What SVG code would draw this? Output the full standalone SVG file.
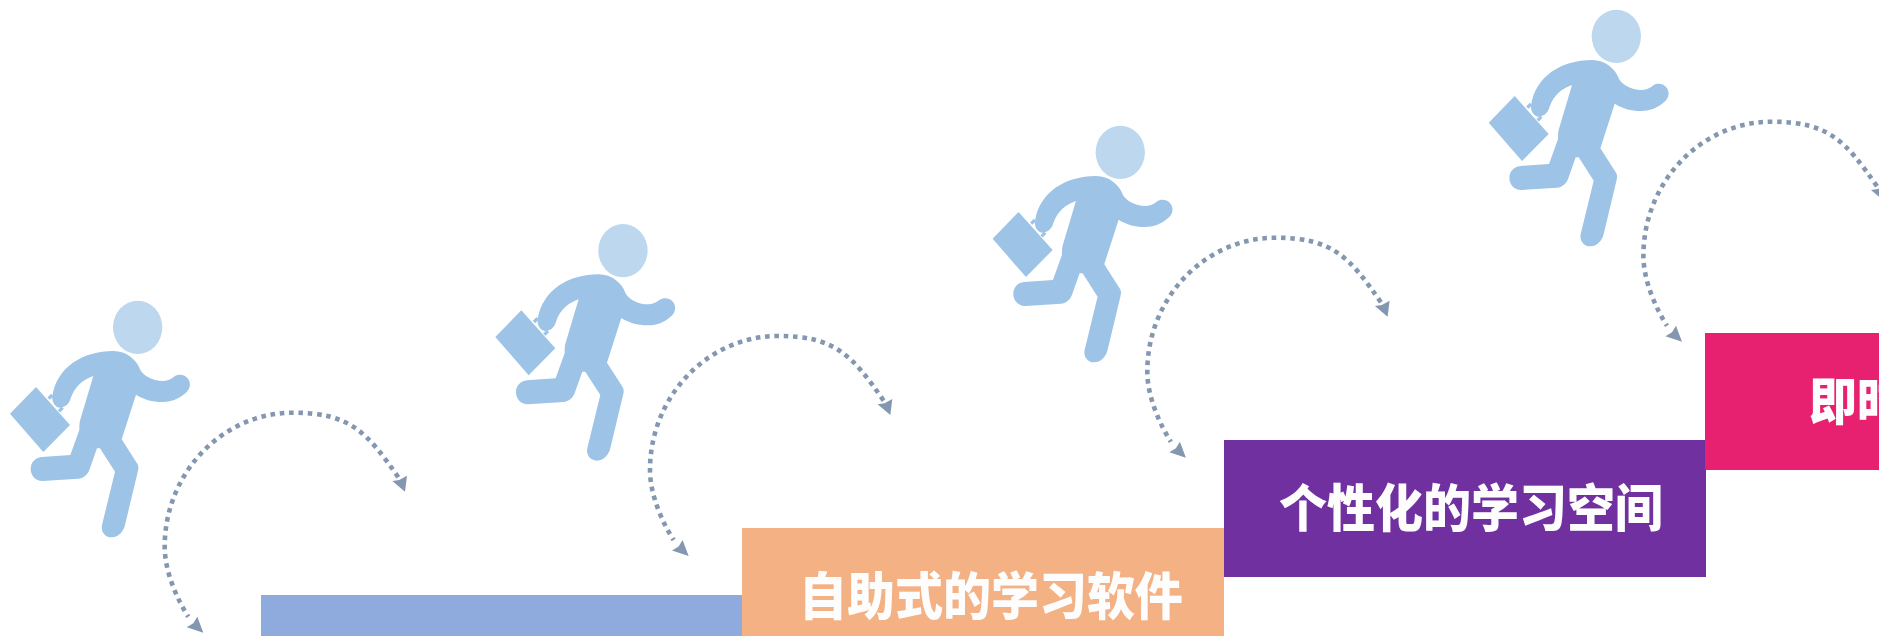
<svg xmlns="http://www.w3.org/2000/svg" width="1879" height="636" viewBox="0 0 1879 636">
<style>
.t{font-family:"Noto Sans CJK SC","Noto Sans",sans-serif;font-weight:900;font-size:48px;fill:#fdfdfd}
.arc{fill:none;stroke:#8497B0;stroke-width:4.6;stroke-dasharray:4.6 4.7}
.head{fill:#BDD7EE}.body{fill:#9DC3E6}
.ah{fill:#8497B0}
</style>
<defs>
<g id="runner" transform="translate(0,280) scale(.33333)">
<ellipse class="head" cx="413" cy="142" rx="74" ry="80"/>
<polygon class="body" points="30,401 108,321 210,435 130,516"/>
<path d="M146,356L157,345M177,394L188,383" fill="none" stroke="#9DC3E6" stroke-width="10"/>
<path class="body" d="M340,213C380,213 410,240 420,268C428,285 455,303 490,303C505,302 515,296 522,290C535,281 555,283 565,298C575,315 568,332 552,343C535,358 512,366 488,366C455,366 430,358 408,344L365,478L410,548C416,556 416,564 414,572L375,735C370,758 350,773 335,772C315,772 302,755 306,735L345,575L300,505L291,505L268,570C262,585 250,595 235,596L128,603C108,604 92,587 92,567C92,548 105,533 125,531L211,525L238,450C238,440 238,430 240,422L280,288C250,298 225,318 212,355C208,372 195,382 180,383C165,382 155,365 157,350C170,260 250,213 340,213Z"/>
</g>
<g id="hop">
<path class="arc" d="M398.3,477.3C367,432.2 350,412.7 293,412.7C222.4,412.7 164.7,473 164.7,546.7C164.7,572 177.5,600 188.3,616.7"/>
<polygon class="ah" points="405,491.7 392.3,481 399.3,480 407,475.7"/>
<polygon class="ah" points="203.3,632.7 186.7,627.3 193.3,623.3 197.3,616.7"/>
</g>
</defs>
<g id="connectors">
<use href="#hop"/>
<use href="#hop" x="485.3" y="-76.7"/>
<use href="#hop" x="982.6" y="-175"/>
<use href="#hop" x="1478.7" y="-291"/>
</g>
<g id="runner-1"><use href="#runner"/></g>
<g id="runner-2"><use href="#runner" x="485.3" y="-76.7"/></g>
<g id="runner-3"><use href="#runner" x="982.6" y="-175"/></g>
<g id="runner-4"><use href="#runner" x="1478.7" y="-291"/></g>
<g id="step-1"><rect x="261" y="595" width="481" height="136" fill="#8FAADC"/></g>
<g id="step-2"><rect x="742" y="528" width="482" height="136" fill="#F4B183"/><text class="t" transform="translate(799,615) scale(1,1.07)">自助式的学习软件</text></g>
<g id="step-3"><rect x="1224" y="440" width="482" height="137" fill="#7030A0"/><text class="t" transform="translate(1279,527) scale(1,1.07)">个性化的学习空间</text></g>
<g id="step-4"><rect x="1705" y="333" width="174" height="137" fill="#E7206F"/><text class="t" transform="translate(1809,420) scale(1,1.07)">即时</text></g>
</svg>
